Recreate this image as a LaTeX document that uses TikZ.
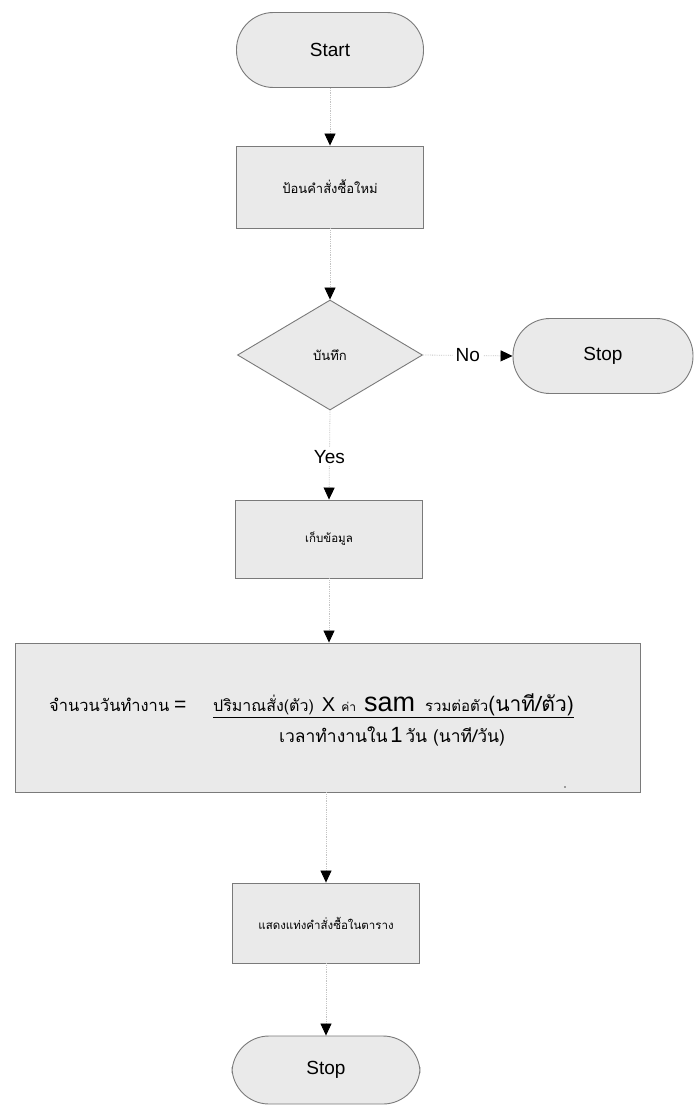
\documentclass[tikz,border=0pt]{standalone}
\usepackage{fontspec}
\setmainfont{Liberation Sans}
\newfontfamily\thai[Script=Thai]{Loma}
\usetikzlibrary{shapes.geometric,arrows.meta}
\definecolor{boxfill}{HTML}{EAEAEA}
\definecolor{boxline}{HTML}{7A7A7A}
\definecolor{flowline}{HTML}{C4C4C4}
\newcommand{\thtext}[2]{{\thai\fontsize{#1}{#1}\selectfont #2}}
\newcommand{\lttext}[2]{{\fontsize{#1}{#1}\selectfont #2}}
\begin{document}
\begin{tikzpicture}[x=1pt,y=-1pt,
  base/.style={draw=boxline, fill=boxfill, line width=0.9pt, inner sep=0pt, align=center},
  terminal/.style={base, rectangle, minimum width=187pt, minimum height=75pt,
    rounded corners=37pt, font=\fontsize{19}{22}\selectfont},
  process/.style={base, rectangle, minimum width=187pt, font=\thai\fontsize{11.5}{13}\selectfont},
  decision/.style={base, diamond, minimum width=185pt, minimum height=110pt,
    font=\thai\fontsize{13}{15}\selectfont},
  flow/.style={draw=flowline, densely dotted, line width=0.8pt,
    -{Triangle[width=11pt,length=12pt,black]}},
  flowlabel/.style={fill=white, inner sep=3pt, font=\fontsize{19}{22}\selectfont}
]
% page
\fill[white] (0,0) rectangle (694,1108);
\useasboundingbox (0,0) rectangle (694,1108);

% shapes
\node[terminal] (start) at (330,50) {Start};
\node[process, minimum height=82pt, font=\thai\fontsize{13}{15}\selectfont] (input) at (330,187) {ป้อนคำสั่งซื้อใหม่};
\node[decision] (save) at (330,355) {บันทึก};
\node[terminal, minimum width=180pt] (stopno) at (603,356) {Stop};
\node[process, minimum height=78pt] (store) at (329,539) {เก็บข้อมูล};
\node[process, minimum width=625pt, minimum height=149pt] (calc) at (327.5,717.5) {};
\node[process, minimum height=80pt] (show) at (326,923) {แสดงแท่งคำสั่งซื้อในตาราง};
\node[terminal, minimum width=188pt, minimum height=68pt] (stop) at (326,1070) {Stop};

% formula inside the calculation box
\node[anchor=base west, inner sep=0pt] (lhs) at (49,711)
  {\thtext{16.5}{จำนวนวันทำงาน}\hspace{5pt}\lttext{21}{=}};
\node[anchor=base west, inner sep=0pt] (num) at (213,711)
  {\underline{\thtext{16}{ปริมาณสั่ง(ตัว)}\hspace{8pt}\lttext{20}{X}\hspace{6pt}%
   \thtext{12}{ค่า}\hspace{8pt}\lttext{27}{sam}\hspace{10pt}%
   \thtext{15}{รวมต่อตัว}\thtext{21}{(นาที/ตัว)}}};
\node[anchor=base, inner sep=0pt] (den) at (392,742)
  {\thtext{17.5}{เวลาทำงานใน}\ \lttext{22}{1}\ \thtext{17.5}{วัน (นาที/วัน)}};
\fill[black!70] (565,787) circle (0.9pt);

% connectors
\draw[flow] (start) -- (input);
\draw[flow] (input) -- (save);
\draw[flow] (save.east) -- node[flowlabel] {No} (stopno.west);
\draw[flow] (save.south) -- node[flowlabel, pos=0.52] {Yes} (store.north);
\draw[flow] (store.south) -- (store.south |- calc.north);
\draw[flow] (show.north |- calc.south) -- (show.north);
\draw[flow] (show.south) -- (stop.north);
\end{tikzpicture}
\end{document}
